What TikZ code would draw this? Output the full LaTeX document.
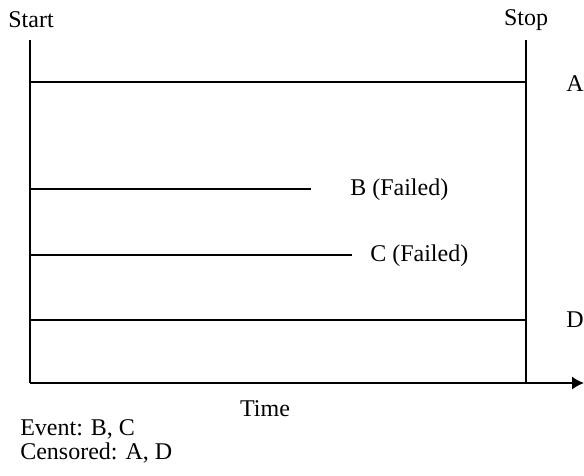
\documentclass[tikz,border=0pt]{standalone}
\usepackage{fontspec}
\setmainfont{Liberation Serif}
\usetikzlibrary{arrows.meta}

\begin{document}
\begin{tikzpicture}[x=0.75pt,y=-0.75pt,
        lbl/.style={font=\fontsize{18}{20}\selectfont,inner sep=0pt},
        axis/.style={line width=1.5pt},
        case/.style={line width=1.1pt}]
        \useasboundingbox (0,0) rectangle (584,475);
        \coordinate (o) at (30,383);
        \coordinate (s) at (30,40);
        \coordinate (e) at (584,383);
        \coordinate (t) at (526,40);
        \coordinate (tb) at (526,383);
        \draw[axis] (s) -- (o);
        \draw[axis,-{Latex[length=9pt,width=10pt]}] (o) -- (e);
        \draw[case] (t) -- (tb);
        \node[lbl](start)at(31,20){Start};
        \node[lbl](stop)at(526,20){Stop};
        \coordinate (a0) at (30,82);
        \coordinate (a1) at (526,82);
        \coordinate (b0) at (30,189);
        \coordinate (b1) at (311,189);
        \coordinate (c0) at (30,255);
        \coordinate (c1) at (352,255);
        \coordinate (d0) at (30,320);
        \coordinate (d1) at (526,320);
        \draw[case] (a0) -- (a1);
        \draw[case] (b0) -- (b1);
        \draw[case] (c0) -- (c1);
        \draw[case] (d0) -- (d1);
        \node[lbl,anchor=west](a)at(566,84){A};
        \node[lbl,anchor=west](b)at(350,190){B (Failed)};
        \node[lbl,anchor=west](c)at(370,256){C (Failed)};
        \node[lbl,anchor=west](d)at(566,320){D};
        \node[lbl](time)at(265,409){Time};
        \node[lbl,anchor=west](ev)at(20,429){Event: B, C};
        \node[lbl,anchor=west](cens)at(20,453){Censored: A, D};
    \end{tikzpicture}
\end{document}
